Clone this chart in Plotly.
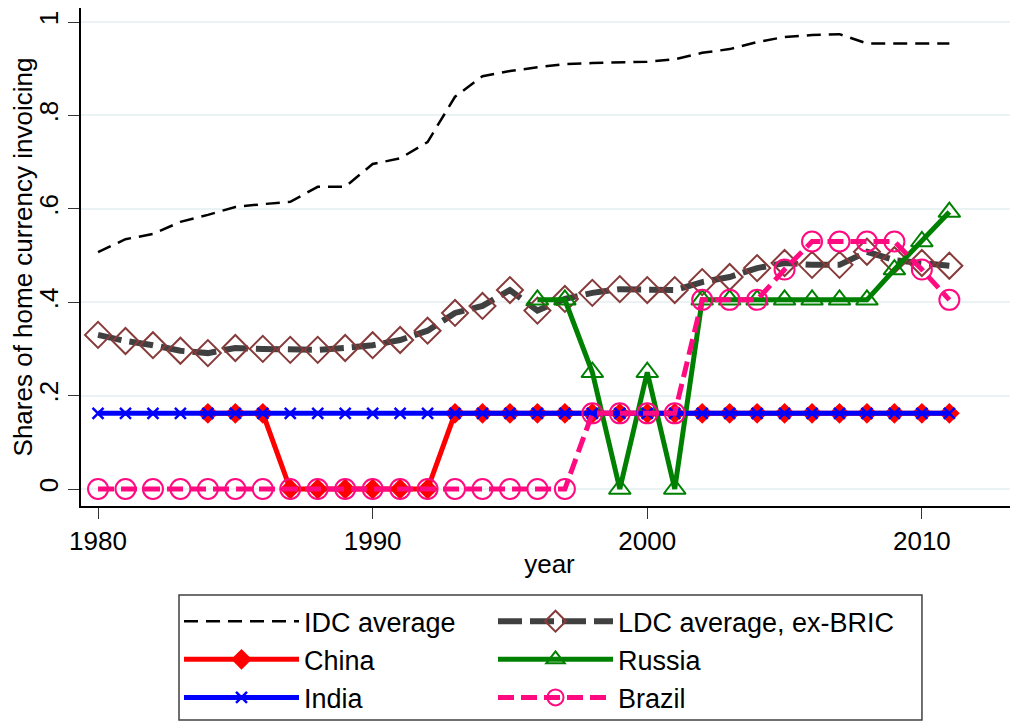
import plotly.graph_objects as go

years = list(range(1980, 2012))

idc_avg = [0.507, 0.535, 0.546, 0.572, 0.587, 0.604, 0.610, 0.615, 0.647, 0.647,
           0.696, 0.708, 0.743, 0.840, 0.884, 0.895, 0.903, 0.910, 0.912, 0.913,
           0.915, 0.920, 0.934, 0.942, 0.957, 0.968, 0.972, 0.974, 0.954, 0.954,
           0.954, 0.954]

ldc_avg = [0.330, 0.317, 0.308, 0.296, 0.291, 0.302, 0.300, 0.298, 0.298, 0.302,
           0.308, 0.319, 0.339, 0.377, 0.392, 0.426, 0.382, 0.407, 0.420, 0.428,
           0.426, 0.426, 0.443, 0.454, 0.473, 0.484, 0.480, 0.480, 0.508, 0.490,
           0.484, 0.478]

china = [None, None, None, None, 0.162, 0.162, 0.162, 0, 0, 0,
         0, 0, 0, 0.162, 0.162, 0.162, 0.162, 0.162, 0.162, 0.162,
         0.162, 0.162, 0.162, 0.162, 0.162, 0.162, 0.162, 0.162, 0.162, 0.162,
         0.162, 0.162]

india = [0.162] * 32

russia = [None] * 16 + [0.405, 0.405, 0.25, 0, 0.25, 0, 0.405, 0.405, 0.405, 0.405,
                        0.405, 0.405, 0.405, 0.47, 0.53, 0.593]

brazil = [0] * 18 + [0.162, 0.162, 0.162, 0.162, 0.405, 0.405, 0.405, 0.47,
                     0.53, 0.53, 0.53, 0.53, 0.47, 0.405]

y_tickvals = [0, 0.2, 0.4, 0.6, 0.8, 1]
y_ticktext = ["0", ".2", ".4", ".6", ".8", "1"]
x_tickvals = [1980, 1990, 2000, 2010]

FONT = "Liberation Sans, Arial, sans-serif"

fig = go.Figure()

fig.add_trace(go.Scatter(
    x=years, y=idc_avg, name="IDC average", mode="lines", legend="legend",
    line=dict(color="black", width=2.5, dash="14px,8px")))

fig.add_trace(go.Scatter(
    x=years, y=ldc_avg, name="LDC average, ex-BRIC", mode="lines+markers",
    legend="legend2",
    line=dict(color="#404040", width=6, dash="24px,8px"),
    marker=dict(symbol="diamond-open", size=20, color="#873a3a",
                line=dict(color="#873a3a", width=2))))

fig.add_trace(go.Scatter(
    x=years, y=china, name="China", mode="lines+markers", legend="legend",
    line=dict(color="#ff0000", width=5),
    marker=dict(symbol="diamond", size=16, color="#ff0000")))

fig.add_trace(go.Scatter(
    x=years, y=russia, name="Russia", mode="lines+markers", legend="legend2",
    line=dict(color="#008000", width=5),
    marker=dict(symbol="triangle-up-open", size=19, color="#008000",
                line=dict(color="#008000", width=2))))

fig.add_trace(go.Scatter(
    x=years, y=india, name="India", mode="lines+markers", legend="legend",
    line=dict(color="#0000ff", width=5),
    marker=dict(symbol="x-thin-open", size=11, color="#0000ff",
                line=dict(color="#0000ff", width=2.5))))

fig.add_trace(go.Scatter(
    x=years, y=brazil, name="Brazil", mode="lines+markers", legend="legend2",
    line=dict(color="#ff0a80", width=5, dash="16px,7px"),
    marker=dict(symbol="circle-open", size=20, color="#ff0a80",
                line=dict(color="#ff0a80", width=2))))

legend_common = dict(
    orientation="v", xanchor="left", yanchor="top", y=-0.183,
    itemwidth=115, borderwidth=0, bgcolor="rgba(0,0,0,0)",
    font=dict(family=FONT, size=27), tracegroupgap=0,
)

fig.update_layout(
    width=1010, height=713,
    margin=dict(l=73, r=0, t=0, b=215, autoexpand=False),
    paper_bgcolor="white", plot_bgcolor="white",
    font=dict(family=FONT, size=26, color="black"),
    showlegend=True,
    legend=dict(x=0.1046, **legend_common),
    legend2=dict(x=0.4397, **legend_common),
    shapes=[dict(type="rect", xref="paper", yref="paper",
                 x0=0.1046, x1=0.8975, y0=-0.1787, y1=-0.4297,
                 line=dict(color="#404040", width=1.5), fillcolor="rgba(0,0,0,0)",
                 layer="below")],
    xaxis=dict(
        range=[1979.38, 2013.5], tickvals=x_tickvals,
        showgrid=False, zeroline=False,
        showline=True, linecolor="black", linewidth=1.5,
        ticks="outside", ticklen=11, tickwidth=1.2, tickcolor="#333",
        tickfont=dict(size=26),
        title=dict(text="year", font=dict(size=26), standoff=0),
    ),
    yaxis=dict(
        range=[-0.0364, 1.030], tickvals=y_tickvals, ticktext=y_ticktext,
        tickangle=-90,
        showgrid=True, gridcolor="#eaf2f3", gridwidth=2, zeroline=False,
        showline=True, linecolor="black", linewidth=1.5,
        ticks="outside", ticklen=11, tickwidth=1.2, tickcolor="#333",
        tickfont=dict(size=26),
        title=dict(text="Shares of home currency invoicing", font=dict(size=26), standoff=5),
    ),
)

fig.write_html("out.html")
